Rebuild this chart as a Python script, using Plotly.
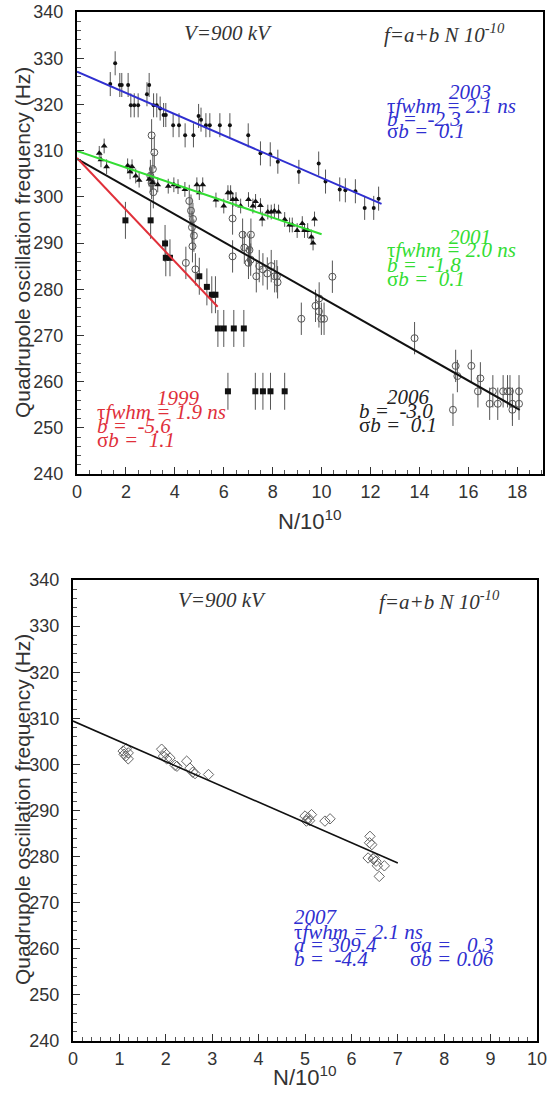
import plotly.graph_objects as go

# ---------------- data: top panel ----------------
x2003 = [1.36, 1.56, 1.75, 1.83, 2.09, 2.2, 2.34, 2.5, 2.86, 2.95, 3.13, 3.26, 3.4, 3.54, 3.63,
         3.93, 4.17, 4.42, 4.76, 4.97, 5.07, 5.27, 5.43, 5.84, 6.25, 7.0, 7.5, 7.9, 8.21, 9.07,
         9.88, 10.16, 10.74, 10.97, 11.38, 11.76, 12.13, 12.33]
f2003 = [324.4, 328.9, 324.2, 324.2, 324.2, 319.8, 319.8, 319.8, 322.2, 324.2, 319.8, 319.8, 319.1, 317.7, 317.7,
         315.5, 315.5, 313.3, 313.3, 317.5, 316.7, 315.5, 315.5, 315.5, 315.5, 313.3, 309.4, 309.2, 307.6, 305.4,
         307.2, 303.3, 301.6, 301.4, 301.2, 297.6, 297.6, 299.6]

x2001 = [0.91, 0.98, 1.11, 1.21, 2.07, 2.17, 2.25, 2.4, 2.54, 2.95, 3.09, 3.3, 3.73, 3.96, 4.13,
         4.41, 4.9, 5.0, 5.14, 5.68, 6.0, 6.17, 6.28, 6.37, 6.5, 6.69, 7.01, 7.19, 7.3, 7.5,
         7.57, 7.8, 7.94, 8.07, 8.24, 8.49, 8.69, 8.8, 9.0, 9.21, 9.3, 9.43, 9.58, 9.65, 9.71]
f2001 = [309.4, 308.0, 311.0, 306.5, 306.7, 305.4, 306.5, 304.5, 303.6, 303.8, 303.1, 302.6, 302.3, 302.6, 302.2,
         301.6, 302.6, 300.9, 302.6, 299.3, 298.0, 300.9, 300.9, 299.4, 299.4, 298.0, 299.4, 298.0, 299.0, 298.1,
         295.2, 296.7, 296.7, 296.9, 296.7, 295.1, 293.9, 293.9, 292.7, 294.2, 292.7, 292.7, 291.3, 290.0, 295.2]

x2006 = [3.05, 3.16, 3.1, 3.05, 3.12, 3.0, 4.45, 4.59, 4.66, 4.74, 4.7, 4.78, 4.72, 4.84,
         6.36, 6.36, 6.77, 7.11, 6.84, 7.05, 7.1, 7.01, 7.33, 7.45, 7.6, 7.78, 7.94, 8.08, 8.17, 8.2,
         9.17, 9.75, 9.89, 9.9, 9.99, 10.1, 10.44, 13.8, 15.37, 15.48, 15.55, 16.12, 16.39, 16.49,
         16.87, 17.0, 17.2, 17.42, 17.6, 17.7, 17.8, 17.8, 18.07, 18.07]
f2006 = [313.3, 309.6, 306.0, 303.0, 301.0, 304.5, 285.7, 299.1, 297.0, 295.2, 293.4, 291.6, 289.3, 284.3,
         295.3, 287.1, 291.8, 291.8, 289.0, 288.5, 286.4, 285.7, 282.8, 285.0, 284.3, 283.4, 285.0, 282.8, 282.8, 281.5,
         273.6, 276.4, 275.2, 278.0, 273.6, 273.6, 282.7, 269.4, 253.9, 263.4, 261.2, 263.4, 257.9, 260.7,
         255.2, 257.9, 255.2, 257.9, 257.9, 257.9, 255.2, 253.9, 257.9, 255.2]

x1999 = [1.98, 3.01, 3.6, 3.63, 3.8, 5.0, 5.31, 5.51, 5.66, 5.76, 6.0, 6.41, 6.82, 6.17, 7.29, 7.6, 7.91, 8.49]
f1999 = [294.9, 294.9, 289.9, 286.8, 286.8, 282.8, 280.5, 278.8, 278.8, 271.5, 271.5, 271.5, 271.5,
         257.9, 257.9, 257.9, 257.9, 257.9]

err2003, err2001, err2006, err1999 = 2.6, 1.6, 3.5, 4.0

# fit parameters f = a + b N
fit_top_names = ["2003", "2001", "2006", "1999"]
fit_top_a = [327.1, 309.9, 308.2, 308.4]
fit_top_b = [-2.3, -1.8, -3.0, -5.6]
fit_top_xmax = [12.45, 10.0, 18.1, 5.75]

# ---------------- data: bottom panel (2007) ----------------
x2007 = [1.08, 1.1, 1.14, 1.15, 1.19, 1.19, 1.91, 1.95, 1.98, 2.02, 2.09, 2.2, 2.24, 2.45, 2.52, 2.58, 2.63, 2.92,
         5.0, 5.03, 5.07, 5.1, 5.14, 5.43, 5.54,
         6.36, 6.39, 6.4, 6.44, 6.47, 6.49, 6.53, 6.56, 6.6, 6.71]
f2007 = [302.9, 302.2, 301.8, 303.4, 302.5, 301.2, 303.3, 301.8, 302.5, 301.2, 301.4, 299.8, 299.6, 300.7, 299.2, 298.3, 298.0, 297.8,
         288.8, 287.7, 288.4, 287.8, 289.1, 287.7, 288.2,
         279.7, 283.0, 284.4, 282.6, 279.5, 279.8, 279.0, 278.0, 275.7, 278.0]
fit_2007_a = 309.4
fit_2007_b = -4.4
fit_2007_xmax = 7.0

x_ticks_top = [0, 2, 4, 6, 8, 10, 12, 14, 16, 18]
x_ticks_bot = list(range(0, 11))
y_ticks = [240, 250, 260, 270, 280, 290, 300, 310, 320, 330, 340]

# ---------------- figure ----------------
W, H = 547, 1099
ML, MR, MT, MB = 73, 4, 12, 58
PW = W - ML - MR
PH = H - MT - MB


def px(xp):  # window pixel -> paper x
    return (xp - ML) / PW


def py(yp):  # window pixel -> paper y
    return (H - MB - yp) / PH


fig = go.Figure()

BLUE = "#2f2fd0"
GREEN = "#33dd33"
RED = "#e0303a"
BLACK = "#111111"
fit_colors = [BLUE, GREEN, BLACK, RED]


def ebar(v):
    return dict(type="constant", value=v, color="#555555", thickness=1, width=0)


fig.add_trace(go.Scatter(x=x2006, y=f2006, mode="markers", xaxis="x", yaxis="y",
                         error_y=ebar(err2006),
                         marker=dict(symbol="circle-open", size=7, color="#555555", line=dict(width=1))))
fig.add_trace(go.Scatter(x=x2003, y=f2003, mode="markers", xaxis="x", yaxis="y",
                         error_y=ebar(err2003),
                         marker=dict(symbol="circle", size=4, color="#111111")))
fig.add_trace(go.Scatter(x=x2001, y=f2001, mode="markers", xaxis="x", yaxis="y",
                         error_y=ebar(err2001),
                         marker=dict(symbol="triangle-up", size=6, color="#111111")))
fig.add_trace(go.Scatter(x=x1999, y=f1999, mode="markers", xaxis="x", yaxis="y",
                         error_y=ebar(err1999),
                         marker=dict(symbol="square", size=6, color="#111111")))

for name, a, b, xm, c in zip(fit_top_names, fit_top_a, fit_top_b, fit_top_xmax, fit_colors):
    fig.add_trace(go.Scatter(x=[0, xm], y=[a, a + b * xm], mode="lines", xaxis="x", yaxis="y",
                             line=dict(color=c, width=2)))

fig.add_trace(go.Scatter(x=x2007, y=f2007, mode="markers", xaxis="x2", yaxis="y2",
                         marker=dict(symbol="diamond-open", size=8, color="#666666", line=dict(width=1))))
fig.add_trace(go.Scatter(x=[0, fit_2007_xmax], y=[fit_2007_a, fit_2007_a + fit_2007_b * fit_2007_xmax],
                         mode="lines", xaxis="x2", yaxis="y2", line=dict(color=BLACK, width=1.6)))

tickfont = dict(family="Liberation Sans, Arial, sans-serif", size=18, color="#333333")


def xaxis(rng, mdtick, domain, anchor, tickvals):
    return dict(range=rng, domain=domain, anchor=anchor, tickvals=tickvals, showline=True, linewidth=2,
                linecolor="black", mirror=True, ticks="inside", ticklen=7, tickwidth=1, tickcolor="#333",
                showgrid=False, zeroline=False, tickfont=tickfont, ticklabelstandoff=0, automargin=False,
                ticklabeloverflow="allow",
                minor=dict(ticks="inside", ticklen=4, tickcolor="#555", dtick=mdtick, showgrid=False))


def yaxis(domain, anchor):
    return dict(range=[240, 340], domain=domain, anchor=anchor, tickvals=y_ticks, showline=True, linewidth=2,
                linecolor="black", mirror=True, ticks="inside", ticklen=7, tickwidth=1, tickcolor="#333",
                showgrid=False, zeroline=False, tickfont=tickfont, ticklabelstandoff=8, automargin=False,
                ticklabeloverflow="allow",
                minor=dict(ticks="inside", ticklen=4, tickcolor="#555", dtick=2, showgrid=False))


top_dom_y = [py(474), py(12)]
bot_dom_y = [py(1041), py(580)]
top_dom_x = [px(77), px(543)]
bot_dom_x = [px(73), px(537)]

fig.update_layout(
    width=W, height=H, margin=dict(l=ML, r=MR, t=MT, b=MB, autoexpand=False),
    paper_bgcolor="white", plot_bgcolor="white", showlegend=False,
    xaxis=xaxis([0, 19.05], 0.5, top_dom_x, "y", x_ticks_top),
    yaxis=yaxis(top_dom_y, "x"),
    xaxis2=xaxis([0, 10], 0.2, bot_dom_x, "y2", x_ticks_bot),
    yaxis2=yaxis(bot_dom_y, "x2"),
)

SERIF = "Liberation Serif, Times New Roman, serif"
ann = []


def txt(x, y, s, color="#222222", size=21, xanchor="left"):
    ann.append(dict(x=px(x), y=py(y), xref="paper", yref="paper", text=s, showarrow=False,
                    xanchor=xanchor, yanchor="middle",
                    font=dict(family=SERIF, size=size, color=color)))


# header texts
txt(228, 33, "<i>V=900 kV</i>", "#333333", 21, "center")
txt(382, 33, "<i>f=a+b N 10<sup>-10</sup></i>", "#333333", 21)
txt(222, 600, "<i>V=900 kV</i>", "#333333", 21, "center")
txt(377, 600, "<i>f=a+b N 10<sup>-10</sup></i>", "#333333", 21)

# 2003 (blue)
txt(447, 92, "<i>2003</i>", BLUE)
txt(385, 106, "τ<i>fwhm = 2.1 ns</i>", BLUE)
txt(385, 119, "<i>b =  -2.3</i>", BLUE)
txt(385, 131, "σ<i>b =  0.1</i>", BLUE)
# 2001 (green)
txt(447, 237, "<i>2001</i>", GREEN)
txt(385, 250, "τ<i>fwhm = 2.0 ns</i>", GREEN)
txt(385, 265, "<i>b =  -1.8</i>", GREEN)
txt(385, 279, "σ<i>b =  0.1</i>", GREEN)
# 1999 (red)
txt(155, 398, "<i>1999</i>", RED)
txt(95, 412, "τ<i>fwhm = 1.9 ns</i>", RED)
txt(95, 426, "<i>b =  -5.6</i>", RED)
txt(95, 440, "σ<i>b =  1.1</i>", RED)
# 2006 (black)
txt(385, 397, "<i>2006</i>", "#222222")
txt(357, 411, "<i>b =  -3.0</i>", "#222222")
txt(357, 425, "σ<i>b =  0.1</i>", "#222222")
# 2007 (blue)
txt(292, 917, "<i>2007</i>", BLUE)
txt(292, 932, "τ<i>fwhm = 2.1 ns</i>", BLUE)
txt(292, 945, "<i>a = 309.4</i>", BLUE)
txt(408, 945, "σ<i>a =   0.3</i>", BLUE)
txt(292, 959, "<i>b =  -4.4</i>", BLUE)
txt(408, 959, "σ<i>b = 0.06</i>", BLUE)

# axis titles
SANS = "Liberation Sans, Arial, sans-serif"
for yc in (243, 810):
    ann.append(dict(x=px(22), y=py(yc), xref="paper", yref="paper", text="Quadrupole oscillation frequency (Hz)",
                    showarrow=False, textangle=-90, xanchor="center", yanchor="middle",
                    font=dict(family=SANS, size=21, color="#333333")))
ann.append(dict(x=px(310), y=py(520), xref="paper", yref="paper", text="N/10<sup>10</sup>", showarrow=False,
                xanchor="center", yanchor="middle", font=dict(family=SANS, size=22, color="#333333")))
ann.append(dict(x=px(305), y=py(1076), xref="paper", yref="paper", text="N/10<sup>10</sup>", showarrow=False,
                xanchor="center", yanchor="middle", font=dict(family=SANS, size=22, color="#333333")))

fig.update_layout(annotations=ann)
fig.write_html("out.html", config={"displayModeBar": False},
               post_script="document.body.style.margin='0px';document.body.style.overflow='hidden';")
